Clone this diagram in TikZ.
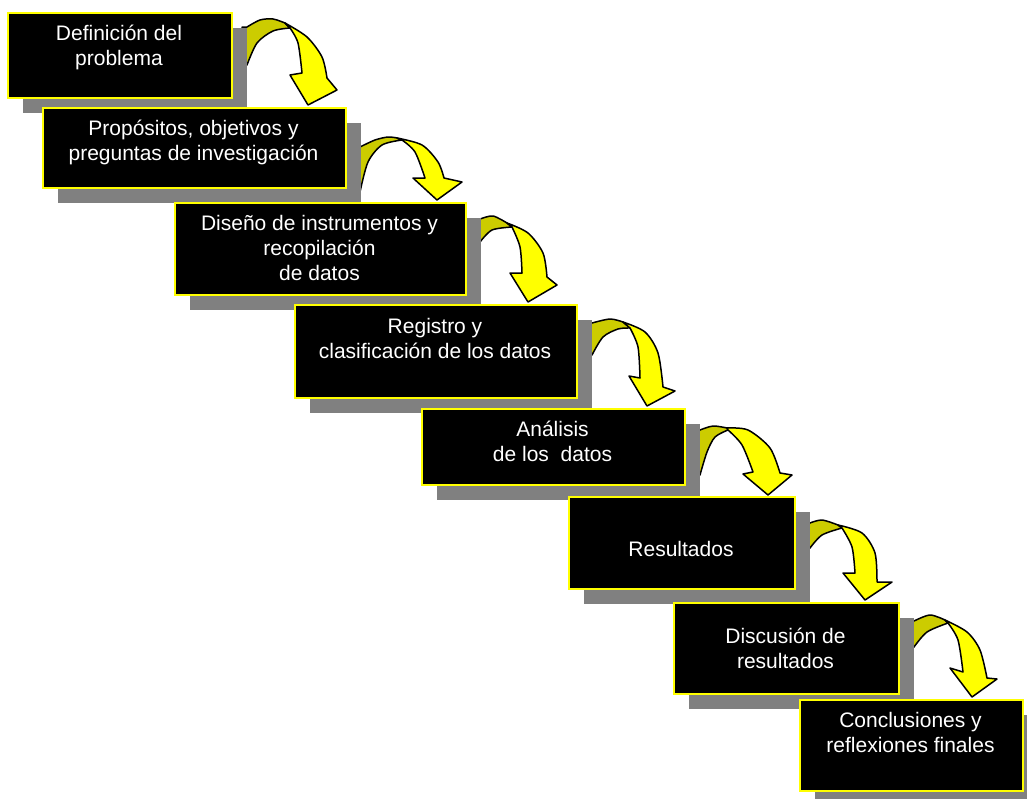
\documentclass[tikz,border=0pt]{standalone}
\usepackage{fontspec}
\setmainfont{Liberation Sans}
\definecolor{stageyellow}{HTML}{FFFF00}
\definecolor{backyellow}{HTML}{CCCC00}
\definecolor{dropgray}{HTML}{808080}
\tikzset{
  dropshadow/.style={fill=dropgray, draw=none, inner sep=0pt, anchor=north west},
  stage/.style={fill=black, draw=stageyellow, line width=2pt, inner sep=0pt, anchor=north west},
  stagetext/.style={text=white, align=center, anchor=base, inner sep=0pt,
    font=\fontsize{21}{25}\selectfont},
  arrowback/.style={fill=backyellow, draw=black, line width=1.5pt, line join=round},
  arrowfront/.style={fill=stageyellow, draw=black, line width=1.5pt, line join=round},
}
% #1 name, #2 left, #3 top, #4 width, #5 height, #6 baseline of the last line, #7 text
\newcommand\makestage[7]{%
  \node[dropshadow, minimum width=#4pt, minimum height=#5pt] (s#1) at (#2+16,#3+16) {};
  \node[stage, minimum width=#4pt, minimum height=#5pt] (b#1) at (#2,#3) {};
  \node[stagetext] (t#1) at (#2+#4/2,#6) {#7};
}
\begin{document}
\begin{tikzpicture}[x=1pt, y=-1pt]
\fill[white] (0,0) rectangle (1027,798);
\useasboundingbox (0,0) rectangle (1027,798);

% curved arrows (tails run behind the drop shadows)
% 1
\filldraw[arrowback] (242,27) -- plot[smooth] coordinates {(247,27) (260,20) (273,19) (285,23)}
  -- plot[smooth] coordinates {(290,28) (273,31) (257,43) (247,65)} -- (242,65) -- cycle;
\filldraw[arrowfront] plot[smooth] coordinates {(285,23) (307,37) (322,57) (327,78)}
  -- (337,90) -- (308,105) -- (290,75)
  -- plot[smooth] coordinates {(302,73) (298,43) (290,28)} -- cycle;
% 2
\filldraw[arrowback] (355,147) -- plot[smooth] coordinates {(360,147) (375,140) (388,137) (397,138)}
  -- plot[smooth] coordinates {(402,140) (382,145) (368,162) (360,192)} -- (355,192) -- cycle;
\filldraw[arrowfront] plot[smooth] coordinates {(397,138) (422,145) (438,162) (444,178)}
  -- (462,182) -- (437,200) -- (413,178)
  -- plot[smooth] coordinates {(425,178) (415,152) (402,140)} -- cycle;
% 3
\filldraw[arrowback] (475,219) -- plot[smooth] coordinates {(480,219) (493,216) (507,223)}
  -- plot[smooth] coordinates {(512,227) (492,230) (480,242)} -- (475,242) -- cycle;
\filldraw[arrowfront] plot[smooth] coordinates {(507,223) (528,233) (543,253) (547,277)}
  -- (557,285) -- (528,302) -- (510,273)
  -- plot[smooth] coordinates {(522,273) (520,247) (512,227)} -- cycle;
% 4
\filldraw[arrowback] (587,323) -- plot[smooth] coordinates {(592,323) (610,319) (623,322)}
  -- plot[smooth] coordinates {(630,328) (618,329) (603,337) (592,355)} -- (587,355) -- cycle;
\filldraw[arrowfront] plot[smooth] coordinates {(623,322) (645,332) (658,353) (663,387)}
  -- (675,391) -- (647,406) -- (629,376)
  -- plot[smooth] coordinates {(640,378) (638,347) (630,328)} -- cycle;
% 5
\filldraw[arrowback] (695,430) -- plot[smooth] coordinates {(700,430) (713,426) (727,428)}
  -- plot[smooth] coordinates {(728,430) (715,437) (707,452) (700,475)} -- (695,475) -- cycle;
\filldraw[arrowfront] plot[smooth] coordinates {(727,428) (748,430) (770,448) (780,473)}
  -- (792,475) -- (768,495) -- (743,474)
  -- plot[smooth] coordinates {(753,472) (742,445) (728,430)} -- cycle;
% 6
\filldraw[arrowback] (805,523) -- plot[smooth] coordinates {(810,523) (822,520) (838,525)}
  -- plot[smooth] coordinates {(842,528) (822,535) (810,548)} -- (805,548) -- cycle;
\filldraw[arrowfront] plot[smooth] coordinates {(838,525) (862,533) (875,553) (877,582)}
  -- (892,582) -- (865,600) -- (843,573)
  -- plot[smooth] coordinates {(855,573) (852,547) (842,528)} -- cycle;
% 7
\filldraw[arrowback] (909,621) -- plot[smooth] coordinates {(914,621) (930,615) (945,620)}
  -- plot[smooth] coordinates {(948,623) (927,632) (914,647)} -- (909,647) -- cycle;
\filldraw[arrowfront] plot[smooth] coordinates {(945,620) (967,632) (980,650) (987,678)}
  -- (997,679) -- (972,697) -- (950,668)
  -- plot[smooth] coordinates {(963,672) (958,640) (948,623)} -- cycle;

% stages
\makestage{1}{7}{12}{224}{85}{65}{Definición del\\problema}
\makestage{2}{42}{107}{303}{80}{160}{Propósitos, objetivos y\\preguntas de investigación}
\makestage{3}{174}{202}{291}{92}{280}{Diseño de instrumentos y\\recopilación\\de datos}
\makestage{4}{294}{304}{282}{93}{358}{Registro y\\clasificación de los datos}
\makestage{5}{421}{408}{263}{76}{461}{Análisis\\de los\ \ datos}
\makestage{6}{568}{496}{226}{92}{556}{Resultados}
\makestage{7}{673}{602}{225}{91}{668}{Discusión de\\resultados}
\makestage{8}{799}{699}{223}{91}{752}{Conclusiones y\\reflexiones finales}
\end{tikzpicture}
\end{document}
